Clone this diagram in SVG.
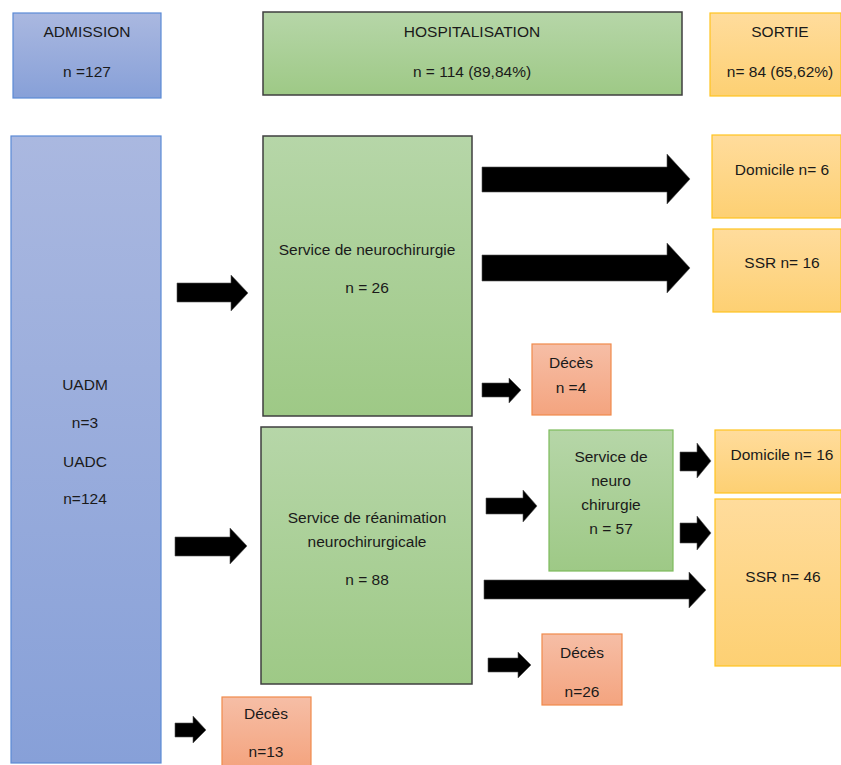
<svg xmlns="http://www.w3.org/2000/svg" width="841" height="765" viewBox="0 0 841 765">
<defs>
<linearGradient id="gBlue" x1="0" y1="0" x2="0" y2="1"><stop offset="0" stop-color="#aab8e0"/><stop offset="1" stop-color="#87a0d8"/></linearGradient>
<linearGradient id="gGreen" x1="0" y1="0" x2="0" y2="1"><stop offset="0" stop-color="#b6d6a8"/><stop offset="1" stop-color="#9ec986"/></linearGradient>
<linearGradient id="gGold" x1="0" y1="0" x2="0" y2="1"><stop offset="0" stop-color="#ffdc9c"/><stop offset="1" stop-color="#fdd073"/></linearGradient>
<linearGradient id="gOrange" x1="0" y1="0" x2="0" y2="1"><stop offset="0" stop-color="#f6bea6"/><stop offset="1" stop-color="#f4a47f"/></linearGradient>
</defs>
<style>
.blue{fill:url(#gBlue);stroke:#5b8ad6;stroke-width:1.2}
.green{fill:url(#gGreen);stroke:#3f3f3f;stroke-width:1.5}
.green2{fill:url(#gGreen);stroke:#7dbb5c;stroke-width:1.2}
.gold{fill:url(#gGold);stroke:#ffc31f;stroke-width:1.2}
.orange{fill:url(#gOrange);stroke:#f08a4b;stroke-width:1.2}
text{font-family:"Liberation Sans",Arial,sans-serif;font-size:15.5px;fill:#1a1a1a;text-anchor:middle}
.arrow{fill:#000;stroke:#555;stroke-width:0.6}
</style>
<rect width="841" height="765" fill="#fff"/>
<g id="admission"><rect class="blue" x="13" y="13" width="148" height="85"/><text x="87" y="37">ADMISSION</text><text x="87" y="77">n =127</text></g>
<g id="hospitalisation"><rect class="green" x="263" y="12" width="419" height="83"/><text x="472" y="37">HOSPITALISATION</text><text x="472" y="77">n = 114 (89,84%)</text></g>
<g id="sortie"><rect class="gold" x="710" y="13" width="131" height="83"/><text x="780" y="37">SORTIE</text><text x="780" y="77">n= 84 (65,62%)</text></g>
<g id="uadm"><rect class="blue" x="11" y="136" width="150" height="627"/><text x="85" y="390">UADM</text><text x="85" y="428">n=3</text><text x="85" y="467">UADC</text><text x="85" y="504">n=124</text></g>
<g id="neurochirurgie"><rect class="green" x="263" y="136" width="209" height="280"/><text x="367" y="255">Service de neurochirurgie</text><text x="367" y="293">n = 26</text></g>
<g id="deces4"><rect class="orange" x="532" y="344" width="79" height="71"/><text x="571" y="368">Décès</text><text x="571" y="393">n =4</text></g>
<g id="domicile6"><rect class="gold" x="712" y="135" width="129" height="83"/><text x="782" y="175">Domicile n= 6</text></g>
<g id="ssr16"><rect class="gold" x="713" y="229" width="128" height="83"/><text x="782" y="268">SSR n= 16</text></g>
<g id="reanimation"><rect class="green" x="261" y="427" width="211" height="257"/><text x="367" y="523">Service de réanimation</text><text x="367" y="547">neurochirurgicale</text><text x="367" y="585">n = 88</text></g>
<g id="neuro57"><rect class="green2" x="549" y="430" width="124" height="141"/><text x="611" y="462">Service de</text><text x="611" y="486">neuro</text><text x="611" y="510">chirurgie</text><text x="611" y="534">n = 57</text></g>
<g id="domicile16"><rect class="gold" x="715" y="430" width="126" height="63"/><text x="782" y="460">Domicile n= 16</text></g>
<g id="ssr46"><rect class="gold" x="715" y="499" width="126" height="167"/><text x="783" y="582">SSR n= 46</text></g>
<g id="deces26"><rect class="orange" x="542" y="634" width="80" height="71"/><text x="582" y="658">Décès</text><text x="582" y="697">n=26</text></g>
<g id="deces13"><rect class="orange" x="222" y="697" width="89" height="70"/><text x="266" y="719">Décès</text><text x="266" y="757">n=13</text></g>
<g id="connectors">
<polygon class="arrow" points="177,283 231,283 231,275 248,293 231,311 231,302 177,302"/>
<polygon class="arrow" points="175,537 230,537 230,528 247,546 230,564 230,556 175,556"/>
<polygon class="arrow" points="482,167 667,167 667,154 690,179 667,204 667,192 482,192"/>
<polygon class="arrow" points="482,255 667,255 667,243 690,268 667,293 667,281 482,281"/>
<polygon class="arrow" points="482,383 509,383 509,378 521,390 509,403 509,397 482,397"/>
<polygon class="arrow" points="486,498 523,498 523,490 537,506 523,522 523,514 486,514"/>
<polygon class="arrow" points="680,452 697,452 697,443 711,461 697,478 697,471 680,471"/>
<polygon class="arrow" points="680,523 697,523 697,516 711,533 697,550 697,543 680,543"/>
<polygon class="arrow" points="484,580 689,580 689,572 706,590 689,608 689,599 484,599"/>
<polygon class="arrow" points="488,658 518,658 518,652 531,665 518,678 518,672 488,672"/>
<polygon class="arrow" points="175,723 193,723 193,716 206,730 193,743 193,737 175,737"/>
</g>
</svg>
